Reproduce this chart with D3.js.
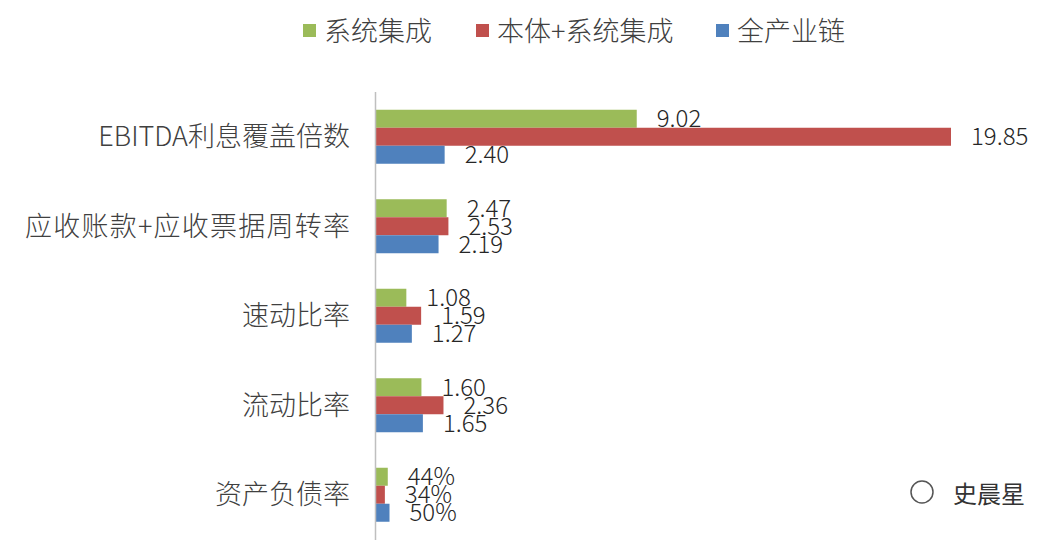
<!DOCTYPE html>
<html><head><meta charset="utf-8">
<script src="https://cdn.jsdelivr.net/npm/d3@7"></script>
<style>body{margin:0;background:#fff;font-family:"Noto Sans CJK SC","Noto Sans",sans-serif;}</style>
</head><body><svg id="c" width="1064" height="542"></svg>
<script>
var categories = ['EBITDA利息覆盖倍数', '应收账款+应收票据周转率', '速动比率', '流动比率', '资产负债率'];
var seriesNames = ['系统集成', '本体+系统集成', '全产业链'];
var colors = ['#9BBB59', '#C0504D', '#4F81BD'];
var values = [
    [9.02, 2.47, 1.08, 1.60, 0.44],
    [19.85, 2.53, 1.59, 2.36, 0.34],
    [2.40, 2.19, 1.27, 1.65, 0.50]
];
var labels = [
    ['9.02', '2.47', '1.08', '1.60', '44%'],
    ['19.85', '2.53', '1.59', '2.36', '34%'],
    ['2.40', '2.19', '1.27', '1.65', '50%']
];

var svg = d3.select('#c');
var x = d3.scaleLinear().domain([0, 19.85]).range([375, 951]);
var y0 = d3.scaleBand().domain(categories).range([92, 539.5]);
var y1 = d3.scaleBand().domain(d3.range(3)).range([0, 54]);
var off = (y0.bandwidth() - 54) / 2;

categories.forEach(function (c, ci) {
    var g = svg.append('g').attr('transform', 'translate(0,' + (y0(c) + off) + ')');
    d3.range(3).forEach(function (si) {
        var v = values[si][ci];
        g.append('rect').attr('x', x(0)).attr('y', y1(si))
            .attr('width', x(v) - x(0)).attr('height', y1.bandwidth())
            .attr('fill', colors[si]);
        g.append('text').attr('x', x(v) + 20).attr('y', y1(si) + y1.bandwidth() / 2)
            .attr('dy', '0.36em').attr('font-size', 24).attr('font-weight', 300).attr('fill', '#262626')
            .text(labels[si][ci]);
    });
    svg.append('text').attr('x', 350).attr('y', y0(c) + y0.bandwidth() / 2)
        .attr('dy', '0.36em').attr('text-anchor', 'end').attr('font-size', 27).attr('font-weight', 300)
        .attr('textLength', ci === 1 ? 325 : null)
        .attr('fill', '#404040').text(c);
});

svg.append('line').attr('x1', 375.5).attr('x2', 375.5).attr('y1', 92).attr('y2', 540)
    .attr('stroke', '#bfbfbf').attr('stroke-width', 1.5);

var legendX = [303, 476, 716];
seriesNames.forEach(function (n, i) {
    svg.append('rect').attr('x', legendX[i]).attr('y', 24).attr('width', 13).attr('height', 13).attr('fill', colors[i]);
    svg.append('text').attr('x', legendX[i] + 21).attr('y', 31).attr('dy', '0.36em').attr('font-weight', 300)
        .attr('font-size', 27).attr('fill', '#404040').text(n);
});

svg.append('text').attr('x', 953).attr('y', 494).attr('dy', '0.36em')
    .attr('font-size', 24).attr('fill', '#333').text('史晨星');
svg.append('circle').attr('cx', 922).attr('cy', 492).attr('r', 11).attr('fill', 'none').attr('stroke', '#555').attr('stroke-width', 1.5);
</script></body></html>
